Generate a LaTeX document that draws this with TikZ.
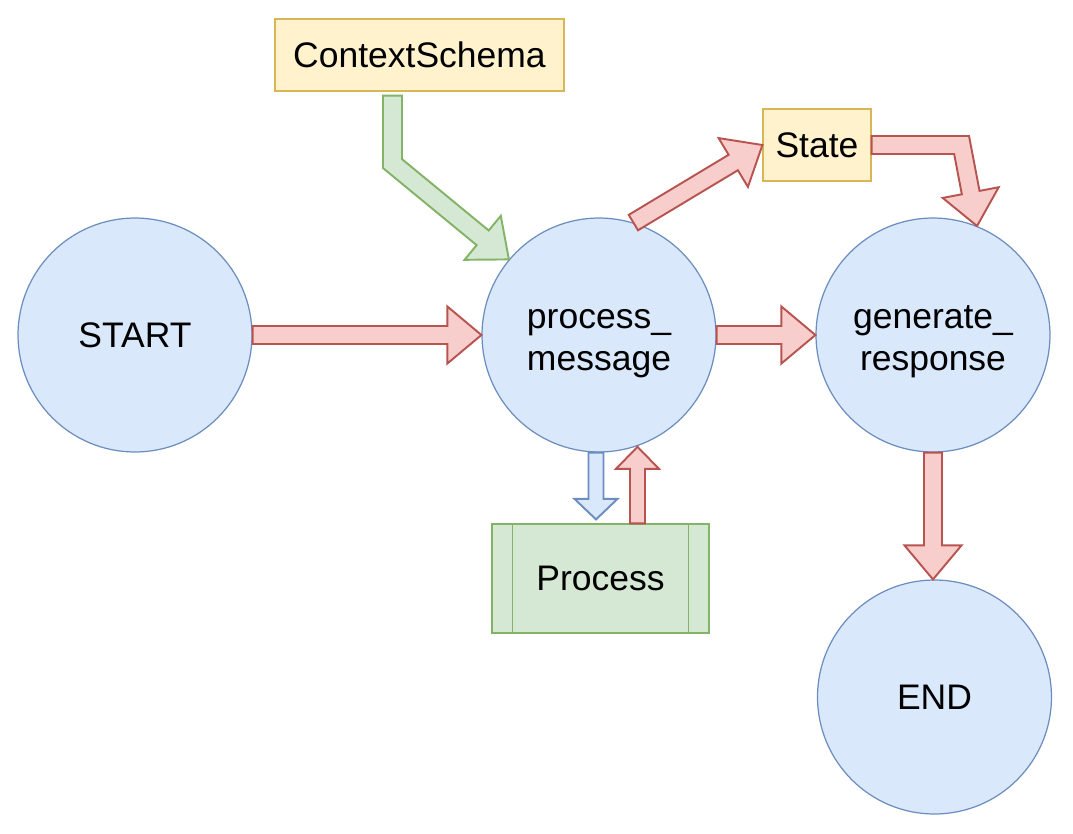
\documentclass[tikz,border=0pt]{standalone}
\usepackage{fontspec}
\setmainfont{Liberation Sans}
\usetikzlibrary{calc}
\usetikzlibrary{positioning}
\usepackage{xcolor}
\definecolor{dioblue}{HTML}{DAE8FC}
\definecolor{dioblueline}{HTML}{6C8EBF}
\definecolor{diogreen}{HTML}{D5E8D4}
\definecolor{diogreenline}{HTML}{82B366}
\definecolor{dioyellow}{HTML}{FFF2CC}
\definecolor{dioyellowline}{HTML}{D6B656}
\definecolor{diored}{HTML}{F8CECC}
\definecolor{dioredline}{HTML}{B85450}
% straight block arrow: style, from, to, half body, half head, head length
\newcommand{\xflex}[6]{%
    \coordinate (fxb) at ($(#3)!#6!(#2)$);
    \filldraw[#1] ($(#2)!#4!90:(#3)$) -- ($(fxb)!#4!90:(#3)$) -- ($(fxb)!#5!90:(#3)$) -- (#3)
        -- ($(fxb)!#5!-90:(#3)$) -- ($(fxb)!#4!-90:(#3)$) -- ($(#2)!#4!-90:(#3)$) -- cycle;
}
% bent block arrow: style, from, bend, to, half body, half head, head length
\newcommand{\xbent}[7]{%
    \coordinate (fxb) at ($(#4)!#7!(#3)$);
    \coordinate (fl1) at ($(#2)!#5!90:(#3)$);
    \coordinate (fr1) at ($(#2)!#5!-90:(#3)$);
    \coordinate (fl2) at ($(#3)!#5!-90:(#2)$);
    \coordinate (fr2) at ($(#3)!#5!90:(#2)$);
    \coordinate (fl3) at ($(#3)!#5!90:(#4)$);
    \coordinate (fr3) at ($(#3)!#5!-90:(#4)$);
    \coordinate (fl4) at ($(fxb)!#5!90:(#4)$);
    \coordinate (fr4) at ($(fxb)!#5!-90:(#4)$);
    \filldraw[#1] (fl1) -- (intersection of fl1--fl2 and fl3--fl4) -- (fl4)
        -- ($(fxb)!#6!90:(#4)$) -- (#4) -- ($(fxb)!#6!-90:(#4)$) -- (fr4)
        -- (intersection of fr1--fr2 and fr3--fr4) -- (fr1) -- cycle;
}
% two-line label, pushed down a little
\newcommand{\xtwo}[2]{\rule{0pt}{0.73cm}#1\\#2}

\begin{document}
\begin{tikzpicture}[x=0.02cm, y=-0.02cm, font=\fontsize{20.2}{23.9}\selectfont,
    stepnode/.style={circle, draw=dioblueline, fill=dioblue, line width=0.7pt,
        minimum size=4.68cm, inner sep=0pt, align=center},
    notebox/.style={rectangle, draw=dioyellowline, fill=dioyellow, line width=0.7pt,
        minimum height=1.44cm, inner sep=0pt},
    procbox/.style={rectangle, draw=diogreenline, fill=diogreen, line width=0.7pt,
        minimum width=4.34cm, minimum height=2.18cm, inner sep=0pt},
    redarrow/.style={fill=diored, draw=dioredline, line width=1.1pt},
    greenarrow/.style={fill=diogreen, draw=diogreenline, line width=1.1pt},
    bluearrow/.style={fill=dioblue, draw=dioblueline, line width=1.1pt}]

        \useasboundingbox (0,0) rectangle (1073,833);

        % ---------------- graph nodes ----------------
        \node[stepnode] (start) at (135,335) {START};
        \node[stepnode] (pm) at (599,335) {\xtwo{process\_}{message}};
        \node[stepnode] (gr) at (933,335) {\xtwo{generate\_}{response}};
        \node[stepnode] (end) at (934.5,697) {END};

        % ---------------- side boxes ----------------
        \node[notebox, minimum width=5.78cm] (ctx) at (419.5,55) {ContextSchema};
        \node[notebox, minimum width=2.16cm] (state) at (817,145) {State};
        \node[procbox] (proc) at (600.5,578.5) {Process};
        \draw[diogreenline, line width=0.7pt] ([xshift=0.42cm]proc.north west) -- ([xshift=0.42cm]proc.south west);
        \draw[diogreenline, line width=0.7pt] ([xshift=-0.42cm]proc.north east) -- ([xshift=-0.42cm]proc.south east);

        % ---------------- main flow ----------------
        \xflex{redarrow}{start.east}{pm.west}{0.18cm}{0.57cm}{0.68cm}
        \xflex{redarrow}{pm.east}{gr.west}{0.18cm}{0.57cm}{0.68cm}
        \coordinate (grout) at (gr.south |- end.north);
        \xflex{redarrow}{gr.south}{grout}{0.18cm}{0.57cm}{0.68cm}

        % ---------------- state ----------------
        \xflex{redarrow}{pm.73}{state.west}{0.18cm}{0.57cm}{0.68cm}
        \coordinate (statebend) at ($(state.east)+(90,0)$);
        \xbent{redarrow}{state.east}{statebend}{gr.68}{0.18cm}{0.57cm}{0.68cm}

        % ---------------- context ----------------
        \coordinate (ctxout) at ($(ctx.south)+(-27,4)$);
        \coordinate (ctxbend) at ($(ctxout)+(0,68)$);
        \xbent{greenarrow}{ctxout}{ctxbend}{pm.140}{0.19cm}{0.57cm}{0.68cm}

        % ---------------- process call ----------------
        \coordinate (procin) at ($(proc.north)+(-4.5,-4)$);
        \coordinate (pmout) at (pm.south -| procin);
        \xflex{bluearrow}{pmout}{procin}{0.15cm}{0.43cm}{0.41cm}
        \coordinate (procout) at ($(proc.north)+(37,0)$);
        \coordinate (pmin) at (procout |- pm.-72);
        \xflex{redarrow}{procout}{pmin}{0.15cm}{0.43cm}{0.44cm}

    \end{tikzpicture}
\end{document}
